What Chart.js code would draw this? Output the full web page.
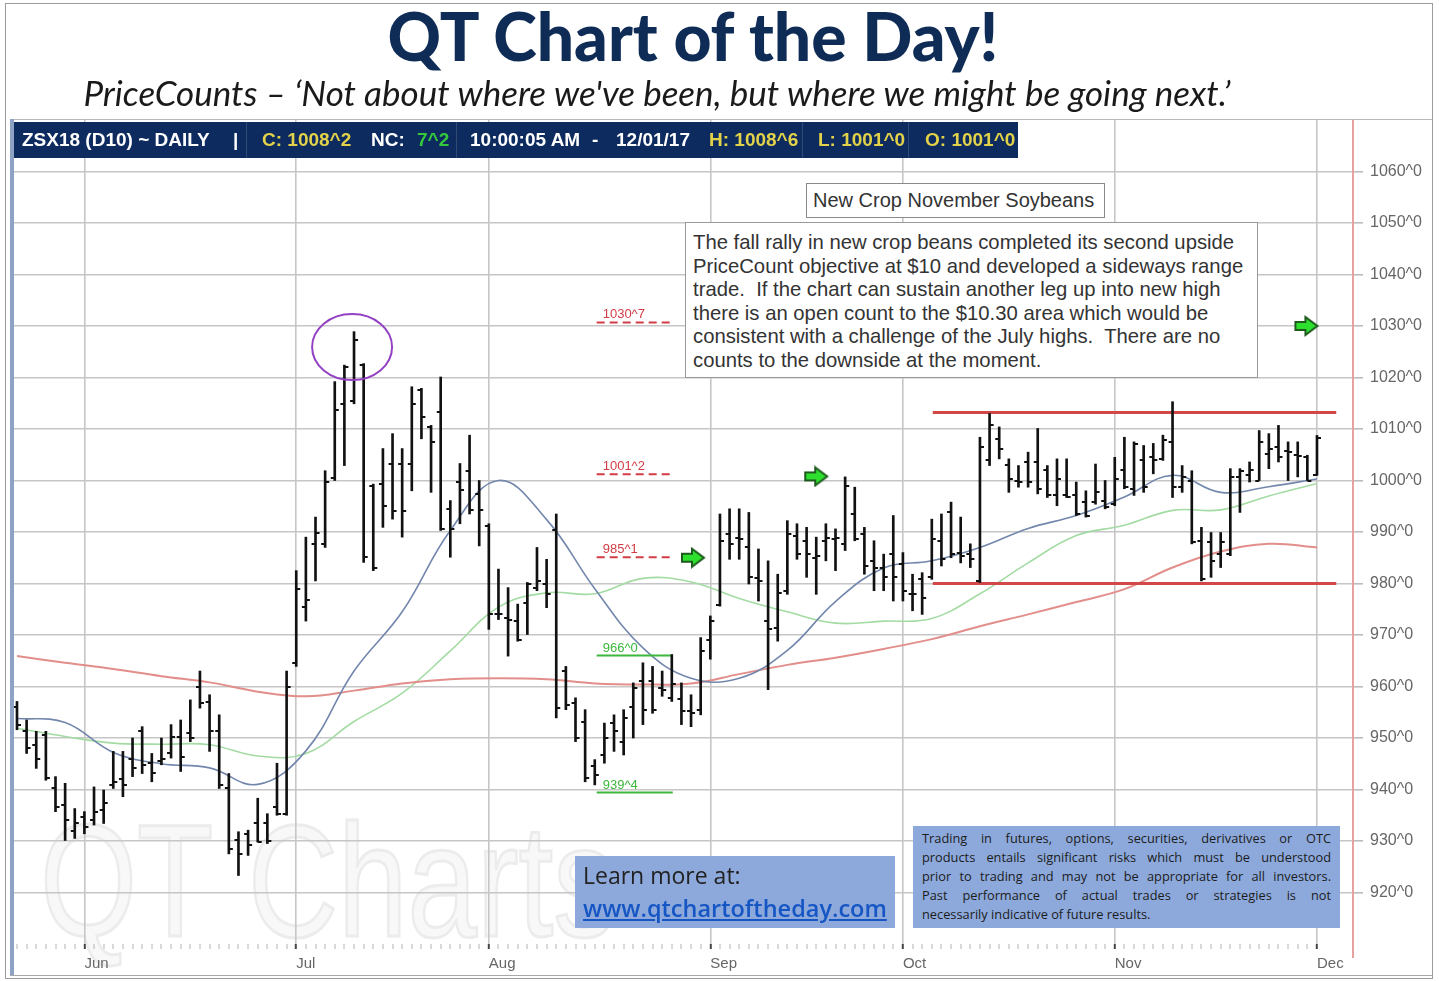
<!DOCTYPE html>
<html>
<head>
<meta charset="utf-8">
<script src="https://cdn.jsdelivr.net/npm/chart.js@4.4.0/dist/chart.umd.min.js"></script>
<style>
  body { margin: 0; background: #fff; }
  #page { position: relative; width: 1439px; height: 981px; overflow: hidden; font-family: "Liberation Sans", Arial, sans-serif; }
  #wrap { position: absolute; left: 0; top: 0; width: 1439px; height: 981px; }
  .abs { position: absolute; white-space: nowrap; }
  .h { position: absolute; top: 122px; line-height: 36px; font-weight: bold; font-size: 19px; color: #fff; white-space: nowrap; }
  .y { color: #e2d24a; }
  .g { color: #36c83c; }
  .disc div { text-align: justify; text-align-last: justify; height: 19px; line-height: 19px; white-space: nowrap; }
</style>
</head>
<body>
<div id="page">
  <div id="wrap"><canvas id="chart"></canvas></div>

  <!-- frame -->
  <div class="abs" style="left:5px;top:3px;width:1426px;height:974px;border:1px solid #9c9c9c;pointer-events:none"></div>
  <div class="abs" style="left:14px;top:119px;width:1418px;height:1px;background:#b8b8b8"></div>
  <div class="abs" style="left:10px;top:119px;width:4px;height:857px;background:#8ea2c4"></div>
  <div class="abs" style="left:10px;top:975px;width:1422px;height:1px;background:#a8a8a8"></div>
  <div class="abs" style="left:1352px;top:944px;width:2px;height:14px;background:#e6a0a0"></div>

  <!-- titles -->
  <div class="abs" style="left:0;top:0;width:1386px;text-align:center;font-family:Lato,'Open Sans',sans-serif;font-weight:900;font-size:66px;line-height:72px;color:#0f2c57">QT Chart of the Day!</div>
  <div class="abs" style="left:0;top:71px;width:1314px;text-align:center;font-family:Lato,'Open Sans',sans-serif;font-style:italic;font-size:35px;line-height:42px;color:#1a1a1a">PriceCounts – ‘Not about where we've been, but where we might be going next.’</div>

  <!-- quote header -->
  <div class="abs" style="left:14px;top:122px;width:1004px;height:36px;background:#0d2b5e"></div>
  <div class="abs" style="left:246px;top:122px;width:1px;height:36px;background:rgba(255,255,255,0.15)"></div>
  <div class="abs" style="left:456px;top:122px;width:1px;height:36px;background:rgba(255,255,255,0.15)"></div>
  <div class="abs" style="left:802px;top:122px;width:1px;height:36px;background:rgba(255,255,255,0.15)"></div>
  <div class="abs" style="left:908px;top:122px;width:1px;height:36px;background:rgba(255,255,255,0.15)"></div>
  <span class="h" style="left:22px">ZSX18 (D10) ~ DAILY</span>
  <span class="h" style="left:233px">|</span>
  <span class="h y" style="left:262px">C: 1008^2</span>
  <span class="h" style="left:371px">NC:</span>
  <span class="h g" style="left:417px">7^2</span>
  <span class="h" style="left:470px">10:00:05 AM</span>
  <span class="h" style="left:592px">-</span>
  <span class="h" style="left:616px">12/01/17</span>
  <span class="h y" style="left:709px">H: 1008^6</span>
  <span class="h y" style="left:818px">L: 1001^0</span>
  <span class="h y" style="left:925px">O: 1001^0</span>

  <!-- annotation boxes -->
  <div class="abs" style="left:806px;top:183px;width:291px;height:33px;border:1px solid #8a8a8a;background:#fff;font-size:20px;line-height:33px;color:#333;padding-left:6px;box-sizing:content-box">New Crop November Soybeans</div>
  <div class="abs" style="left:685px;top:222px;border:1px solid #999;background:#fff;font-size:20.3px;line-height:23.6px;color:#333;padding:8px 0 0 7px;box-sizing:border-box;width:573px;height:156px">The fall rally in new crop beans completed its second upside<br>PriceCount objective at $10 and developed a sideways range<br>trade.&nbsp; If the chart can sustain another leg up into new high<br>there is an open count to the $10.30 area which would be<br>consistent with a challenge of the July highs.&nbsp; There are no<br>counts to the downside at the moment.</div>

  <div class="abs" style="left:575px;top:856px;width:320px;height:72px;background:#8da9db"></div>
  <div class="abs" style="left:583px;top:860px;font-family:'Open Sans',sans-serif;font-size:23px;line-height:30px;color:#222">Learn more at:</div>
  <div class="abs" style="left:583px;top:893px;font-family:'Open Sans',sans-serif;font-size:23.5px;line-height:30px;color:#1656c4;text-decoration:underline;font-weight:600">www.qtchartoftheday.com</div>

  <div class="abs disc" style="left:913px;top:826px;width:427px;height:102px;background:#8da9db;box-sizing:border-box;padding:3px 9px 0 9px;font-family:'Open Sans',sans-serif;font-size:12.8px;color:#1c1c1c;white-space:normal">
    <div>Trading in futures, options, securities, derivatives or OTC</div>
    <div>products entails significant risks which must be understood</div>
    <div>prior to trading and may not be appropriate for all investors.</div>
    <div>Past performance of actual trades or strategies is not</div>
    <div style="text-align-last:left">necessarily indicative of future results.</div>
  </div>
</div>

<script>
// trading days: index 0 = 22 May 2017 ... index 135 = 1 Dec 2017
const monthNames = ['Jun', 'Jul', 'Aug', 'Sep', 'Oct', 'Nov', 'Dec'];
const monthStartIdx = [7, 29, 49, 72, 92, 114, 135];
const dayCount = 136;

const opens = [
  956, 951.3, 948.7, 950.5, 940.2, 937, 932, 934.7, 934, 936,
  940.9, 942, 946, 951.3, 945.2, 945.5, 947, 950.2, 951, 960,
  957, 951.3, 940.2, 930.1, 931.4, 933.4, 933.4, 936.6, 935.3, 964.5,
  975.5, 987.7, 987.7, 1000.5, 1014.9, 1015.5, 1022.5, 999, 999.3, 1003.3,
  1003.3, 1003.3, 1017.5, 1010.4, 1013.3, 994.5, 999.7, 1001.9, 997.4, 991.2,
  974, 973.3, 972.7, 976.3, 979.2, 979.9, 990.3, 963, 956.8, 953.2,
  944.5, 946.7, 952.9, 949.3, 956.1, 961, 961, 959.7, 957.8, 957.5,
  955.2, 955.5, 969.1, 975.9, 989.6, 988.9, 987, 981, 972.7, 971.4,
  978.6, 989.3, 988.3, 985, 988.3, 988.6, 987.7, 993.5, 989.6, 984.4,
  983.1, 985.7, 983.8, 978, 980.8, 981.2, 988.3, 993.8, 986, 985.7,
  980.5, 1004, 1008.1, 1003, 1000, 1003.6, 1003.6, 1002, 997.1, 997.1,
  997.1, 995.8, 995.8, 996.1, 995.5, 1002, 998.4, 1003.9, 1004.5, 1004.2,
  1007.5, 998.7, 1000, 988.3, 988, 985.7, 985.7, 1000.6, 1001, 1000,
  1005.2, 1006.5, 1005.8, 1005, 1004.6, 1001
];
const highs = [
  957.1, 953.5, 951.3, 951.3, 942.5, 941.2, 936.3, 935.7, 940.5, 939.9,
  947.4, 947.4, 950, 952.2, 947, 950, 952.6, 953.5, 957.4, 963,
  958.4, 954.5, 943.1, 931.8, 932.1, 938.3, 935.3, 945.1, 963, 982.5,
  989, 992.9, 1001.9, 1019.2, 1022.4, 1028.9, 1022.7, 999.3, 1006.2, 1009.1,
  1006.2, 1018.2, 1017.9, 1010.7, 1020.1, 996.1, 1003.3, 1008.8, 1000, 991.6,
  982.8, 979.2, 976, 980.2, 987, 984.7, 993.5, 963.9, 957.8, 955.5,
  945.8, 952.9, 954.5, 955.5, 960.7, 964.6, 963.9, 963, 966.2, 960.7,
  958.4, 969.5, 973.7, 993.5, 994.5, 994.5, 993.8, 986.7, 984.4, 981.8,
  992.2, 991.6, 990.9, 989, 991.6, 990.6, 1000.7, 998.7, 990.9, 988.3,
  985.7, 993.2, 986, 981.8, 982.1, 992.5, 993.5, 995.8, 992.9, 987.7,
  1008.4, 1013, 1010.4, 1004.2, 1002.9, 1005.5, 1010.1, 1002.9, 1004.2, 1004.2,
  999.7, 998, 1003.2, 1000, 1004.5, 1008.4, 1007.5, 1006.8, 1007.2, 1008.8,
  1015.3, 1002.9, 1001.9, 990.9, 989.9, 989.9, 1002.3, 1002.3, 1003.6, 1009.7,
  1009.1, 1010.7, 1007.5, 1007.5, 1004.9, 1008.75
];
const lows = [
  951.6, 947, 944.1, 941.8, 935.7, 930.1, 930.5, 931.4, 933.1, 933.4,
  940.2, 938.6, 942.5, 943.1, 941.5, 944.8, 946.1, 943.5, 949.3, 955.8,
  947.4, 940.2, 927.5, 923.3, 927.2, 929.8, 929.5, 935, 935, 963.9,
  972.7, 980.5, 987, 1000, 1002.9, 1014.9, 984.1, 982.5, 990.9, 992.5,
  989, 998, 1008.1, 997.7, 990.3, 985.1, 991.6, 993.5, 987.3, 971.1,
  973, 965.9, 968.8, 970.1, 978.6, 975.3, 953.9, 955.5, 949.3, 941.5,
  940.9, 945.1, 947.4, 946.7, 950, 952.6, 954.8, 958.1, 957.1, 952.6,
  952.2, 954.5, 965.3, 975.6, 984.7, 984.7, 979.9, 976.6, 959.4, 968.8,
  977.9, 984.7, 981.2, 977.9, 984.4, 982.5, 986.4, 988.3, 981.8, 978.6,
  978.6, 976.6, 976.6, 974.7, 974, 980.8, 983.4, 985, 984, 983.1,
  980.2, 1002.9, 1004.2, 997.7, 998.7, 998.7, 997.4, 996.7, 995.1, 996.7,
  993.2, 992.9, 995.4, 994.5, 995.1, 998.4, 997.1, 997.7, 1001.3, 1003.9,
  996.7, 997.7, 987.7, 980.5, 981.2, 983.1, 985.4, 993.8, 999.7, 1000,
  1002.3, 1003.6, 1000, 1000.7, 1000, 1001
];
const closes = [
  952.5, 948, 946, 942.2, 936.6, 934, 933.4, 932.7, 935.7, 937.3,
  941.5, 940.9, 944.1, 944.8, 943.3, 946, 950.2, 946.4, 950, 956.8,
  951.3, 940.9, 928.5, 927.5, 929.2, 929.8, 930, 935.3, 960, 979,
  976.8, 989.9, 999.7, 1013.6, 1022, 1027.3, 985.1, 983, 995.1, 994,
  994, 1014.9, 1012.4, 1007.5, 990.6, 990.6, 998.1, 994.2, 994.2, 974,
  974, 973, 969.1, 979.9, 980.5, 977.9, 955.8, 956.5, 950, 942.2,
  942.8, 950, 951.3, 953.9, 959.7, 955.5, 955.5, 959.4, 960.4, 955.2,
  954.8, 966.9, 972.7, 988.3, 987.6, 988.6, 981.2, 980.5, 971.1, 978.2,
  989.6, 985.7, 985.7, 985.4, 988.9, 988.9, 999, 988.6, 983.4, 983.1,
  981.2, 981.2, 978.6, 977.9, 977.2, 988.6, 984.7, 985.7, 985.4, 984.7,
  1006.5, 1010.7, 1006.2, 1000.3, 999.7, 999.7, 998.4, 997.1, 1000.3, 996.7,
  993.5, 993.2, 997.7, 994.8, 1000.3, 998.7, 1007.1, 998.7, 1004, 1007.8,
  998.7, 1000.6, 988, 980.8, 984.4, 988, 1000.6, 1001.9, 1002, 1007.5,
  1006.2, 1004.5, 1005.5, 1004.8, 1000, 1008.25
];

// moving averages every fifth bar
const maIdx = [0, 5, 10, 15, 20, 25, 30, 35, 40, 45, 50, 55, 60, 65, 70, 75, 80, 85, 90, 95, 100, 105, 110, 115, 120, 125, 130, 135];
const maFast = [953.8, 953, 947.2, 945, 944.2, 941, 947.5, 963, 974.5, 990.3, 1000, 992.4, 979, 967.5, 961.6, 961.6, 967, 976.5, 983, 984.4, 987, 990.7, 993.2, 996.8, 1001, 997.7, 998.8, 1000.3];
const maMid = [951.9, 950.3, 949, 948.8, 948.7, 946.5, 947, 953.2, 958.7, 966.9, 975.4, 978.2, 978, 981, 980.3, 977.1, 974.5, 972.3, 972.7, 973.2, 978, 984, 989.3, 991.3, 994.2, 994.3, 997, 999.4];
const maSlow = [965.9, 964.6, 963.4, 962, 960.8, 959, 958.1, 959.2, 960.6, 961.4, 961.6, 961.4, 960.6, 960.4, 960.6, 962.4, 964.2, 965.6, 967.3, 969.2, 971.7, 974, 976.4, 978.9, 983.1, 986.2, 987.7, 987];

// PriceCount objectives
const objLevels = [1030.7, 1001.2, 985.1, 966.0, 939.4];
const objLabels = ['1030^7', '1001^2', '985^1', '966^0', '939^4'];
const objSpan = [60.2, 68.1];
// sideways range
const rangeLevels = [1013.2, 980.0];
const rangeSpan = [95.1, 137];
// arrows and circled high
const arrowPts = [{ x: 70.2, y: 985 }, { x: 83, y: 1000.8 }, { x: 133.9, y: 1030 }];
const circleAt = { x: 34.8, y: 1025.9 };

const yTicks = [920, 930, 940, 950, 960, 970, 980, 990, 1000, 1010, 1020, 1030, 1040, 1050, 1060];

function tickImage(side) {
  const c = document.createElement('canvas');
  c.width = 10; c.height = 2;
  const g = c.getContext('2d');
  g.fillStyle = '#111';
  if (side === 'left') g.fillRect(1, 0, 4, 2); else g.fillRect(5, 0, 4, 2);
  return c;
}
function arrowImage() {
  const c = document.createElement('canvas');
  c.width = 26; c.height = 22;
  const g = c.getContext('2d');
  g.beginPath();
  g.moveTo(2, 7); g.lineTo(12, 7); g.lineTo(12, 2); g.lineTo(24, 11);
  g.lineTo(12, 20); g.lineTo(12, 15); g.lineTo(2, 15); g.closePath();
  g.fillStyle = '#2ee02e'; g.fill();
  g.lineWidth = 2; g.strokeStyle = '#1e5a1e'; g.stroke();
  return c;
}

const seg = (a, b, v) => [{ x: a, y: v }, { x: b, y: v }];
const objColors = ['#d23c46', '#d23c46', '#d23c46', '#3cb83c', '#3cb83c'];

const datasets = [
  {
    type: 'bar', data: highs.map((h, i) => ({ x: i, y: [lows[i], h] })),
    backgroundColor: '#111', barThickness: 2, order: 2
  },
  {
    type: 'line', data: opens.map((v, i) => ({ x: i, y: v })), showLine: false,
    pointStyle: tickImage('left'), pointRadius: 3, order: 1
  },
  {
    type: 'line', data: closes.map((v, i) => ({ x: i, y: v })), showLine: false,
    pointStyle: tickImage('right'), pointRadius: 3, order: 1
  },
  { type: 'line', data: maSlow.map((v, k) => ({ x: maIdx[k], y: v })), borderColor: '#e28e8a', borderWidth: 2, pointRadius: 0, tension: 0.4, order: 5 },
  { type: 'line', data: maMid.map((v, k) => ({ x: maIdx[k], y: v })), borderColor: '#a3dba3', borderWidth: 1.6, pointRadius: 0, tension: 0.4, order: 5 },
  { type: 'line', data: maFast.map((v, k) => ({ x: maIdx[k], y: v })), borderColor: '#7387ad', borderWidth: 1.6, pointRadius: 0, tension: 0.4, order: 4 }
];
objLevels.forEach((v, k) => {
  datasets.push({
    type: 'line', data: seg(objSpan[0], objSpan[1], v), borderColor: objColors[k],
    borderWidth: 2, borderDash: k < 3 ? [8, 5] : [], pointRadius: 0, order: 3
  });
});
rangeLevels.forEach(v => {
  datasets.push({
    type: 'line', data: seg(rangeSpan[0], rangeSpan[1], v), borderColor: '#d24848',
    borderWidth: 3, pointRadius: 0, order: 3
  });
});
datasets.push({
  type: 'line', data: arrowPts, showLine: false, pointStyle: arrowImage(), pointRadius: 8, order: 0
});

const overlay = {
  id: 'overlay',
  beforeDraw(chart) {
    const { ctx } = chart;
    ctx.save();
    ctx.translate(40, 936);
    ctx.scale(0.78, 1);
    ctx.font = '160px "Liberation Sans"';
    ctx.fillStyle = '#f8f8f8';
    ctx.fillText('QT Charts', 0, 0);
    ctx.strokeStyle = '#ececec';
    ctx.lineWidth = 3;
    ctx.strokeText('QT Charts', 0, 0);
    ctx.restore();
  },
  afterDatasetsDraw(chart) {
    const { ctx, scales: { x, y } } = chart;
    ctx.save();
    ctx.font = '13px "Liberation Sans"';
    objLevels.forEach((v, k) => {
      ctx.fillStyle = objColors[k];
      ctx.fillText(objLabels[k], x.getPixelForValue(objSpan[0]) + 6, y.getPixelForValue(v) - 4);
    });
    ctx.beginPath();
    ctx.ellipse(x.getPixelForValue(circleAt.x), y.getPixelForValue(circleAt.y), 40, 33, 0, 0, Math.PI * 2);
    ctx.strokeStyle = '#9442c4';
    ctx.lineWidth = 2;
    ctx.stroke();
    ctx.restore();
  }
};

Chart.defaults.font.family = '"Liberation Sans", Arial, sans-serif';

new Chart(document.getElementById('chart'), {
  type: 'bar',
  data: { datasets },
  plugins: [overlay],
  options: {
    responsive: true,
    maintainAspectRatio: false,
    animation: false,
    events: [],
    layout: { padding: { left: 14, top: 120, right: 0, bottom: 0 } },
    plugins: { legend: { display: false }, tooltip: { enabled: false } },
    scales: {
      x: {
        type: 'linear', min: -0.31, max: 138.74, offset: false,
        afterBuildTicks: (s) => { s.ticks = Array.from({ length: dayCount }, (_, i) => ({ value: i })); },
        afterFit: (s) => { s.height = 37; },
        border: { display: false },
        grid: {
          offset: false,
          color: (c) => monthStartIdx.includes(c.tick.value) ? '#c6c6c6' : 'rgba(0,0,0,0)',
          lineWidth: (c) => monthStartIdx.includes(c.tick.value) ? 1.6 : 0,
          tickColor: (c) => monthStartIdx.includes(c.tick.value) ? '#444' : '#b4b4b4',
          tickWidth: (c) => monthStartIdx.includes(c.tick.value) ? 2 : 1,
          tickLength: 5
        },
        ticks: {
          autoSkip: false, maxRotation: 0, minRotation: 0, align: 'start', padding: 6,
          color: '#666', font: { size: 15 },
          callback: (v) => { const k = monthStartIdx.indexOf(v); return k >= 0 ? monthNames[k] : ''; }
        }
      },
      y: {
        type: 'linear', position: 'right', min: 910, max: 1070,
        afterBuildTicks: (s) => { s.ticks = yTicks.map(v => ({ value: v })); },
        afterFit: (s) => { s.width = 86; },
        border: { color: '#e6a0a0', width: 2 },
        grid: { color: '#c6c6c6', lineWidth: 1.6, tickLength: 10, tickColor: '#bcbcbc' },
        ticks: { crossAlign: 'near', padding: 7, color: '#666', font: { size: 16 }, callback: (v) => v + '^0' }
      }
    }
  }
});
</script>
</body>
</html>
